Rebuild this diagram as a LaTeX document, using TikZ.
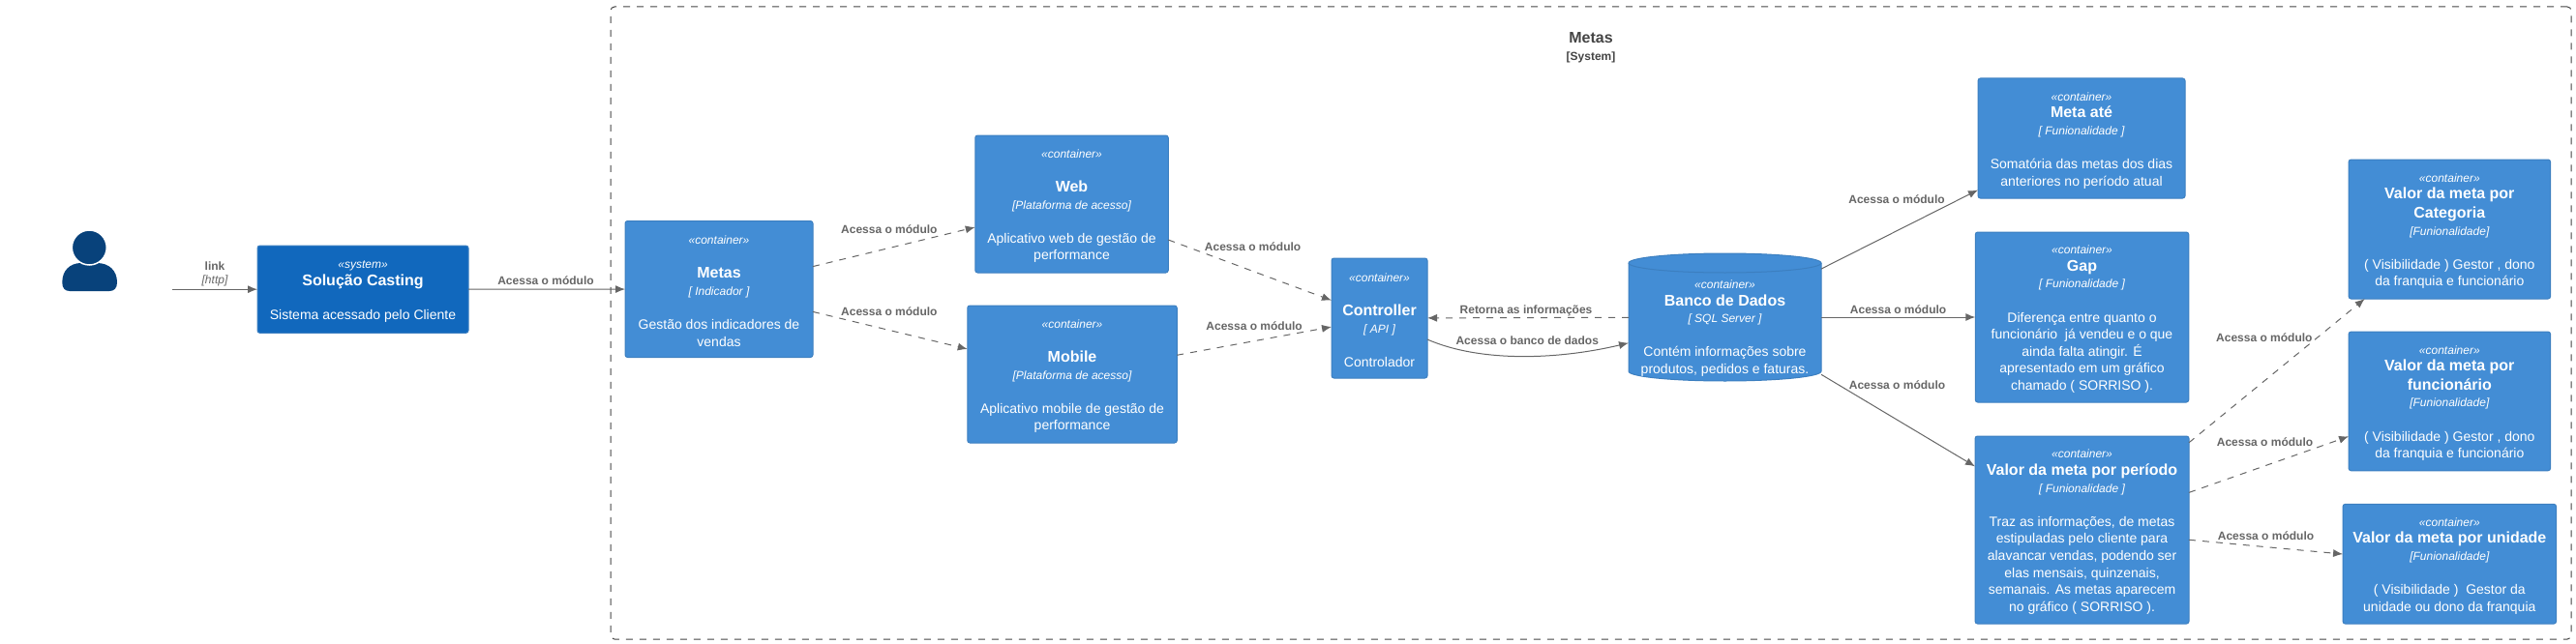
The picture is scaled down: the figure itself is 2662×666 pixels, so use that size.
\documentclass[tikz,border=0pt]{standalone}
\usepackage{fontspec}
\setmainfont{Liberation Sans}
\usetikzlibrary{arrows.meta}
\definecolor{containerblue}{HTML}{438DD5}
\definecolor{systemblue}{HTML}{1168BD}
\definecolor{personblue}{HTML}{08427B}
\definecolor{edgeblue}{HTML}{3C7FC0}
\definecolor{linkgray}{HTML}{666666}
\definecolor{framegray}{HTML}{444444}
\newcommand{\stereo}[1]{\rule{0pt}{13pt}{\itshape\fontsize{12}{17.6}\selectfont «#1»}}
\newcommand{\boxtitle}[1]{{\bfseries\fontsize{16}{17.6}\selectfont #1}}
\newcommand{\boxtech}[1]{{\itshape\fontsize{12}{17.6}\selectfont #1}}
\tikzset{
    container/.style={rectangle, rounded corners=2.5, fill=containerblue, draw=edgeblue, line width=1,
        text=white, align=center, inner sep=0, outer sep=0, font=\fontsize{14}{17.6}\selectfont},
    system/.style={container, fill=systemblue},
    rel/.style={draw=linkgray, line width=1, -{Latex[length=10,width=8]}},
    reldash/.style={rel, dash pattern=on 7 off 7},
    rellabel/.style={text=linkgray, inner sep=0, align=center, font=\bfseries\fontsize{12}{14}\selectfont}
}
\begin{document}
\begin{tikzpicture}[x=1pt, y=-1pt]
    \useasboundingbox (0,0) rectangle (2662,666);
    \node(boundary) at (1644,334) [rectangle, rounded corners=4, draw=framegray, line width=1, dash pattern=on 7 off 7, minimum width=2026, minimum height=654] {};
    \node(boundarytitle) at (1644,49) [text=framegray, inner sep=0, align=center, font=\bfseries\fontsize{16}{18}\selectfont] {Metas\\{\fontsize{12}{18}\selectfont [System]}};
    % person
    \fill[personblue] (64.3,292) .. controls (64.3,280) and (72,272) .. (84,272) -- (100,272) .. controls (113,272) and (121,280) .. (121,292) .. controls (121,298) and (118,301) .. (113,301) -- (72,301) .. controls (67,301) and (64.3,298) .. (64.3,292) -- cycle;
    \node(head) at (92.3,256) [circle, fill=personblue, draw=white, line width=1.5, minimum size=36, inner sep=0] {};
    \coordinate(linkstart) at (178,299.2);
    % database body
    \draw[fill=containerblue, draw=edgeblue, line width=1] (1683,272) .. controls (1683,266.5) and (1727.5,262) .. (1782.5,262) .. controls (1837.5,262) and (1882,266.5) .. (1882,272) -- (1882,384) .. controls (1882,389.5) and (1837.5,394) .. (1782.5,394) .. controls (1727.5,394) and (1683,389.5) .. (1683,384) -- cycle;
    \draw[draw=edgeblue, line width=1] (1683,272) .. controls (1683,277.5) and (1727.5,282) .. (1782.5,282) .. controls (1837.5,282) and (1882,277.5) .. (1882,272);
    % boxes
    \node(casting) at (375,299.2) [system, minimum width=218, minimum height=90.3] {\stereo{system}\\\boxtitle{Solução Casting}\\[17.6pt]Sistema acessado pelo Cliente};
    \node(metas) at (743,299) [container, minimum width=194, minimum height=141] {\stereo{container}\\[17.6pt]\boxtitle{Metas}\\\boxtech{[ Indicador ]}\\[17.6pt]Gestão dos indicadores de\\vendas};
    \node(web) at (1107.5,211) [container, minimum width=199.5, minimum height=142] {\stereo{container}\\[17.6pt]\boxtitle{Web}\\\boxtech{[Plataforma de acesso]}\\[17.6pt]Aplicativo web de gestão de\\performance};
    \node(mobile) at (1108,387) [container, minimum width=216.5, minimum height=142] {\stereo{container}\\[17.6pt]\boxtitle{Mobile}\\\boxtech{[Plataforma de acesso]}\\[17.6pt]Aplicativo mobile de gestão de\\performance};
    \node(controller) at (1425.5,329) [container, minimum width=99, minimum height=124] {\stereo{container}\\[17.6pt]\boxtitle{Controller}\\\boxtech{[ API ]}\\[17.6pt]Controlador};
    \node(db) at (1782.5,328) [container, fill=none, draw=none, minimum width=199, minimum height=132] {\rule{0pt}{32pt}\stereo{container}\\\boxtitle{Banco de Dados}\\\boxtech{[ SQL Server ]}\\[17.6pt]Contém informações sobre\\produtos, pedidos e faturas.};
    \node(metaate) at (2151,143) [container, minimum width=214, minimum height=124] {\stereo{container}\\\boxtitle{Meta até}\\\boxtech{[ Funionalidade ]}\\[17.6pt]Somatória das metas dos dias\\anteriores no período atual};
    \node(gap) at (2151.5,328) [container, minimum width=220.5, minimum height=176] {\stereo{container}\\\boxtitle{Gap}\\\boxtech{[ Funionalidade ]}\\[17.6pt]Diferença entre quanto o\\funcionário\ \ já vendeu e o que\\ainda falta atingir. É\\apresentado em um gráfico\\chamado ( SORRISO ).};
    \node(periodo) at (2151.5,548) [container, minimum width=221, minimum height=194] {\stereo{container}\\\boxtitle{Valor da meta por período}\\\boxtech{[ Funionalidade ]}\\[17.6pt]Traz as informações, de metas\\estipuladas pelo cliente para\\alavancar vendas, podendo ser\\elas mensais, quinzenais,\\semanais. As metas aparecem\\no gráfico ( SORRISO ).};
    \node(categoria) at (2531.3,237) [container, minimum width=208.5, minimum height=144] {\stereo{container}\\\boxtitle{Valor da meta por}\\[2pt]\boxtitle{Categoria}\\\boxtech{[Funionalidade]}\\[17.6pt]( Visibilidade ) Gestor , dono\\da franquia e funcionário};
    \node(funcionario) at (2531.3,414.9) [container, minimum width=208.5, minimum height=143.7] {\stereo{container}\\\boxtitle{Valor da meta por}\\[2pt]\boxtitle{funcionário}\\\boxtech{[Funionalidade]}\\[17.6pt]( Visibilidade ) Gestor , dono\\da franquia e funcionário};
    \node(unidade) at (2531.3,583.2) [container, minimum width=220.5, minimum height=123.7] {\stereo{container}\\\boxtitle{Valor da meta por unidade}\\\boxtech{[Funionalidade]}\\[17.6pt]( Visibilidade )\ \ Gestor da\\unidade ou dono da franquia};
    % connectors
    \draw[rel] (linkstart) -- node[rellabel, yshift=15.5] {link\\{\mdseries\itshape [http]}} (casting);
    \draw[rel] (casting) -- node[rellabel, xshift=-1, yshift=8.5] {Acessa o módulo} (metas);
    \draw[reldash] (metas) -- node[rellabel, xshift=-5, yshift=18.3] {Acessa o módulo} (web);
    \draw[reldash] (metas) -- node[rellabel, xshift=-1, yshift=19.7] {Acessa o módulo} (mobile);
    \draw[reldash] (web) -- node[rellabel, xshift=3, yshift=24.4] {Acessa o módulo} (controller);
    \draw[reldash] (mobile) -- node[rellabel, yshift=15.6] {Acessa o módulo} (controller);
    \draw[reldash] (db) -- node[rellabel, xshift=-2, yshift=7.3] {Retorna as informações} (controller);
    \draw[rel] (controller.-24) .. controls (1530,375) and (1610,372) .. node[rellabel, xshift=6, yshift=16] {Acessa o banco de dados} (db.195);
    \draw[rel] (db) -- node[rellabel, xshift=-3, yshift=31.6] {Acessa o módulo} (metaate);
    \draw[rel] (db) -- node[rellabel, yshift=8] {Acessa o módulo} (gap);
    \draw[rel] (db) -- node[rellabel, xshift=-1, yshift=37] {Acessa o módulo} (periodo);
    \draw[reldash] (periodo) -- node[rellabel, xshift=-13, yshift=34.5] {Acessa o módulo} (categoria);
    \draw[reldash] (periodo) -- node[rellabel, xshift=-4, yshift=22.7] {Acessa o módulo} (funcionario);
    \draw[reldash] (periodo) -- node[rellabel, yshift=11.6] {Acessa o módulo} (unidade);
\end{tikzpicture}
\end{document}
